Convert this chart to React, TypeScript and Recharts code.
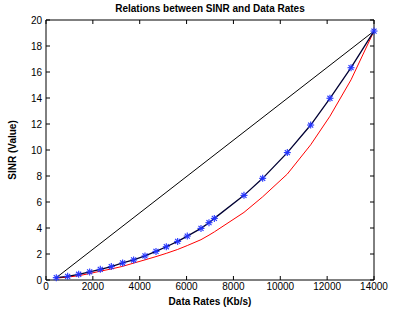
import React from 'react';
import { LineChart, Line, XAxis, YAxis } from 'recharts';

const rates = [440, 925, 1395, 1864, 2318, 2787, 3270, 3740, 4225, 4695, 5135, 5620, 6030, 6615, 6957, 7185, 8450, 9248, 10300, 11297, 12120, 13020, 14000];
const measured = [0.18, 0.28, 0.44, 0.62, 0.82, 1.03, 1.31, 1.54, 1.85, 2.2, 2.56, 2.97, 3.38, 3.97, 4.41, 4.74, 6.51, 7.82, 9.8, 11.92, 13.98, 16.33, 19.15];
const model = [0.15, 0.22, 0.33, 0.5, 0.68, 0.85, 1.05, 1.3, 1.55, 1.8, 2.05, 2.35, 2.65, 3.1, 3.45, 3.7, 5.2, 6.4, 8.15, 10.4, 12.6, 15.4, 19.15];
const linear = [0.18, 19.15];
const xTicks = [0, 2000, 4000, 6000, 8000, 10000, 12000, 14000];
const yTicks = [0, 2, 4, 6, 8, 10, 12, 14, 16, 18, 20];

const data = rates.map((r, i) => ({
  x: r,
  measured: measured[i],
  model: model[i],
  linear: i === 0 ? linear[0] : i === rates.length - 1 ? linear[1] : null,
}));

const FONT = '"Liberation Sans", Arial, Helvetica, sans-serif';
const W = 394;
const H = 309;
const M = { top: 20, right: 20, bottom: 0, left: 0 };
const XAXIS_H = 29;
const YAXIS_W = 46;
const PLOT_TOP = M.top;
const PLOT_RIGHT = W - M.right;
const TICK_IN = 4;
const X_MARGIN = 3;
const Y_MARGIN = 4;

const Star = (props: any) => {
  const { cx, cy } = props;
  if (cx == null || cy == null) return null;
  const r = 3.5;
  const d = r * 0.72;
  return (
    <g stroke="#2233ff" strokeWidth={1.1}>
      <line x1={cx - r} y1={cy} x2={cx + r} y2={cy} />
      <line x1={cx} y1={cy - r} x2={cx} y2={cy + r} />
      <line x1={cx - d} y1={cy - d} x2={cx + d} y2={cy + d} />
      <line x1={cx - d} y1={cy + d} x2={cx + d} y2={cy - d} />
    </g>
  );
};

const XTick = (props: any) => {
  const { x, y, payload } = props;
  const axisY = y - X_MARGIN;
  return (
    <g>
      <line x1={x} y1={axisY} x2={x} y2={axisY - TICK_IN} stroke="#000" />
      <line x1={x} y1={PLOT_TOP} x2={x} y2={PLOT_TOP + TICK_IN} stroke="#000" />
      <text x={x} y={y} dy="0.71em" textAnchor="middle" fontSize={10} fontFamily={FONT} fill="#000">
        {payload.value}
      </text>
    </g>
  );
};

const YTick = (props: any) => {
  const { x, y, payload } = props;
  const axisX = x + Y_MARGIN;
  return (
    <g>
      <line x1={axisX} y1={y} x2={axisX + TICK_IN} y2={y} stroke="#000" />
      <line x1={PLOT_RIGHT - TICK_IN} y1={y} x2={PLOT_RIGHT} y2={y} stroke="#000" />
      <text x={x} y={y} dy="0.355em" textAnchor="end" fontSize={10} fontFamily={FONT} fill="#000">
        {payload.value}
      </text>
    </g>
  );
};

export default function App() {
  return (
    <div style={{ position: 'absolute', left: 0, top: 0, width: W, height: H, background: '#fff' }}>
      <div
        style={{
          position: 'absolute',
          left: YAXIS_W,
          width: W - YAXIS_W - M.right,
          top: 3,
          textAlign: 'center',
          fontFamily: FONT,
          fontWeight: 'bold',
          fontSize: 10,
          color: '#000',
        }}
      >
        Relations between SINR and Data Rates
      </div>
      <LineChart width={W} height={H} data={data} margin={M}>
        <XAxis
          dataKey="x"
          type="number"
          domain={[0, 14000]}
          ticks={xTicks}
          interval={0}
          tickLine={false}
          tickSize={0}
          tickMargin={X_MARGIN}
          height={XAXIS_H}
          axisLine={{ stroke: '#000' }}
          tick={<XTick />}
          label={{ value: 'Data Rates (Kb/s)', position: 'insideBottom', offset: 4, style: { fontSize: 10, fontWeight: 'bold', fill: '#000', fontFamily: FONT } }}
        />
        <XAxis xAxisId="top" dataKey="x" type="number" domain={[0, 14000]} orientation="top" mirror tick={false} tickLine={false} axisLine={{ stroke: '#000' }} />
        <YAxis
          type="number"
          domain={[0, 20]}
          ticks={yTicks}
          interval={0}
          width={YAXIS_W}
          tickLine={false}
          tickSize={0}
          tickMargin={Y_MARGIN}
          axisLine={{ stroke: '#000' }}
          tick={<YTick />}
          label={{ value: 'SINR (Value)', angle: -90, position: 'insideLeft', offset: 12, style: { fontSize: 10, fontWeight: 'bold', fill: '#000', fontFamily: FONT, textAnchor: 'middle' } }}
        />
        <YAxis yAxisId="right" type="number" domain={[0, 20]} orientation="right" mirror tick={false} tickLine={false} axisLine={{ stroke: '#000' }} />
        <Line dataKey="linear" stroke="#000" strokeWidth={1} dot={false} connectNulls isAnimationActive={false} />
        <Line dataKey="model" stroke="#ff0000" strokeWidth={1} dot={false} isAnimationActive={false} />
        <Line dataKey="measured" stroke="#000033" strokeWidth={1.3} dot={<Star />} isAnimationActive={false} />
      </LineChart>
    </div>
  );
}
